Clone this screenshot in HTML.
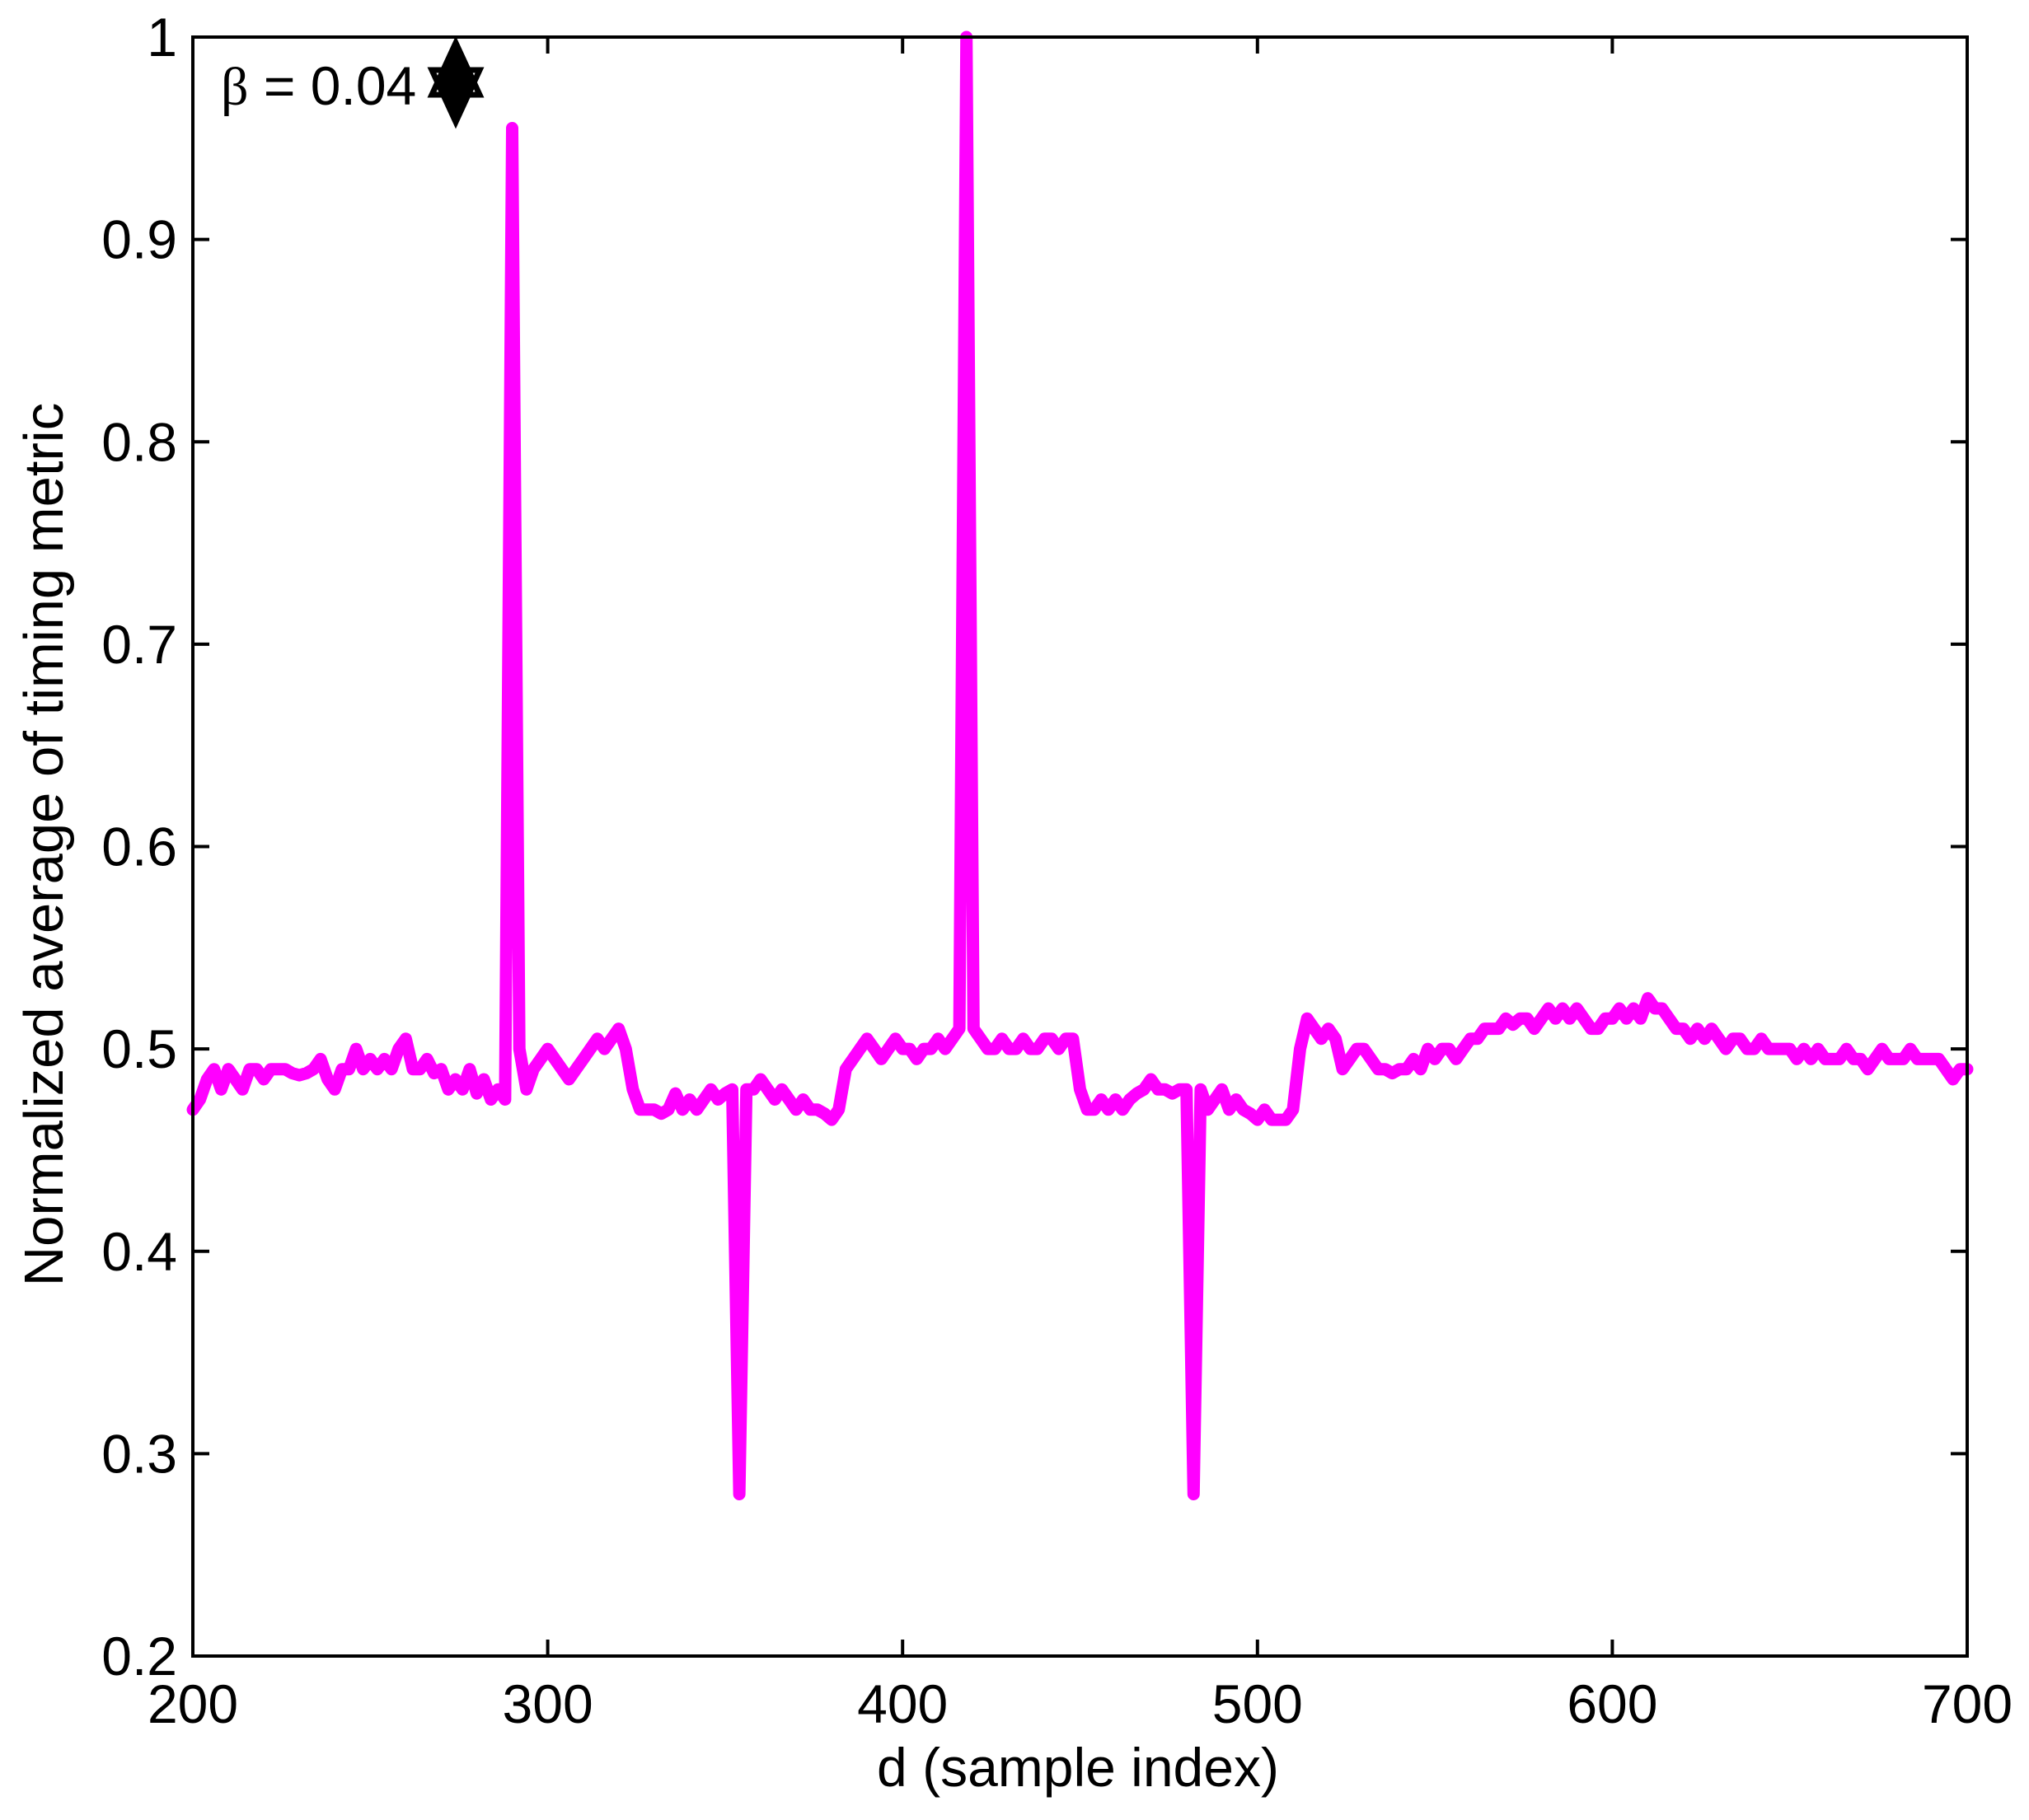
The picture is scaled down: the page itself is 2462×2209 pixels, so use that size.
<!DOCTYPE html>
<html><head><meta charset="utf-8">
<style>
html,body{margin:0;padding:0;background:#fff;}
svg{display:block;font-family:"Liberation Sans",sans-serif;}
</style></head>
<body>
<svg id="chart" width="2462" height="2209" viewBox="0 0 2462 2209" xmlns="http://www.w3.org/2000/svg">
<rect x="0" y="0" width="2462" height="2209" fill="#fff"/>
<g id="ticks"></g>
<g id="series"></g>
<rect x="234" y="45" width="2153" height="1965" fill="none" stroke="#000" stroke-width="4"/>
<text x="268" y="127" font-size="66" fill="#000"><tspan font-family="'Liberation Serif',serif">β</tspan> = 0.04</text>
<g>
<polygon points="553,48 572,100 553,152 534,100" fill="#000"/>
<polygon points="553,52 582,115 524,115" fill="none" stroke="#000" stroke-width="7"/>
<polygon points="553,148 582,85 524,85" fill="none" stroke="#000" stroke-width="7"/>
</g>
<text x="1308" y="2168" font-size="66" text-anchor="middle">d (sample index)</text>
<text transform="translate(76,1025) rotate(-90)" font-size="67" text-anchor="middle">Normalized average of timing metric</text>
</svg>
<script>
const xTicks = [200,300,400,500,600,700];
const yTicks = [0.2,0.3,0.4,0.5,0.6,0.7,0.8,0.9,1];
const yTickLabels = ["0.2","0.3","0.4","0.5","0.6","0.7","0.8","0.9","1"];
const metricValues = [
0.47,0.475,0.485,0.49,0.48,0.49,0.485,0.48,0.49,0.49,0.485,0.49,0.49,0.49,0.488,0.487,
0.488,0.49,0.495,0.485,0.48,0.49,0.49,0.50,0.49,0.495,0.49,0.495,0.49,0.50,0.505,
0.49,0.49,0.495,0.488,0.49,0.48,0.485,0.48,0.49,0.478,0.485,0.475,0.48,0.475,
0.955,0.50,0.48,
0.49,0.495,0.50,0.495,0.49,0.485,0.49,0.495,0.50,0.505,0.50,0.505,0.51,
0.50,0.48,0.47,0.47,0.47,0.468,0.47,0.478,0.47,0.475,0.47,0.475,0.48,0.475,0.478,0.48,
0.28,0.48,
0.48,0.485,0.48,0.475,0.48,0.475,0.47,0.475,0.47,0.47,0.468,0.465,0.47,0.49,
0.495,0.50,0.505,0.50,0.495,0.50,0.505,0.50,0.50,0.495,0.50,0.50,0.505,0.50,0.505,0.51,
1.0,0.51,
0.505,0.50,0.50,0.505,0.50,0.50,0.505,0.50,0.50,0.505,0.505,0.50,0.505,0.505,0.48,0.47,
0.47,0.475,0.47,0.475,0.47,0.475,0.478,0.48,0.485,0.48,0.48,0.478,0.48,0.48,
0.28,0.48,
0.47,0.475,0.48,0.47,0.475,0.47,0.468,0.465,0.47,0.465,0.465,0.465,0.47,0.50,0.515,
0.51,0.505,0.51,0.505,0.49,0.495,0.50,0.50,0.495,0.49,0.49,0.488,0.49,0.49,0.495,0.49,0.50,0.495,0.50,0.50,0.495,0.50,0.505,
0.505,0.51,0.51,0.51,0.515,0.512,0.515,0.515,0.51,0.515,0.52,0.515,0.52,0.515,0.52,0.515,0.51,0.51,0.515,0.515,0.52,0.515,0.52,0.515,0.525,
0.52,0.52,0.515,0.51,0.51,0.505,0.51,0.505,0.51,0.505,0.50,0.505,0.505,0.50,0.50,0.505,0.50,0.50,0.50,0.50,
0.495,0.50,0.495,0.50,0.495,0.495,0.495,0.50,0.495,0.495,0.49,0.495,0.50,0.495,0.495,0.495,0.50,0.495,0.495,0.495,0.495,0.49,0.485,0.49,0.49
];
const xMin=200,xMax=700,yMin=0.2,yMax=1;
const L=234,R=2387,T=45,B=2010;
function xs(v){return L+(v-xMin)/(xMax-xMin)*(R-L);}
function ys(v){return B-(v-yMin)/(yMax-yMin)*(B-T);}
const NS="http://www.w3.org/2000/svg";
const tg=document.getElementById('ticks');
function mk(tag,attrs,parent){const e=document.createElementNS(NS,tag);for(const k in attrs)e.setAttribute(k,attrs[k]);parent.appendChild(e);return e;}
xTicks.forEach((t)=>{
  const x=xs(t);
  const a=mk('line',{x1:x,y1:B,x2:x,y2:B-20,stroke:'#000','stroke-width':4},tg);
  
  
  const b=mk('line',{x1:x,y1:T,x2:x,y2:T+20,stroke:'#000','stroke-width':4},tg);
  
  
  const tx=mk('text',{x:x,y:2091,'font-size':66,'text-anchor':'middle'},tg);
  tx.textContent=String(t);
  
  
});
yTicks.forEach((t,i)=>{
  const y=ys(t);
  const a=mk('line',{x1:L,y1:y,x2:L+20,y2:y,stroke:'#000','stroke-width':4},tg);
  
  
  const b=mk('line',{x1:R,y1:y,x2:R-20,y2:y,stroke:'#000','stroke-width':4},tg);
  
  
  const tx=mk('text',{x:215,y:y+23,'font-size':66,'text-anchor':'end'},tg);
  tx.textContent=yTickLabels[i];
  
  
});
const n=metricValues.length;
const pts=metricValues.map((v,i)=>{const d=xMin+i*(xMax-xMin)/(n-1);return xs(d).toFixed(1)+','+ys(Math.min(v,yMax)).toFixed(1);}).join(' ');
const sg=document.getElementById('series');
const pl=mk('polyline',{points:pts,fill:'none',stroke:'#ff00ff','stroke-width':15,'stroke-linejoin':'round','stroke-linecap':'round'},sg);


</script>
</body></html>
